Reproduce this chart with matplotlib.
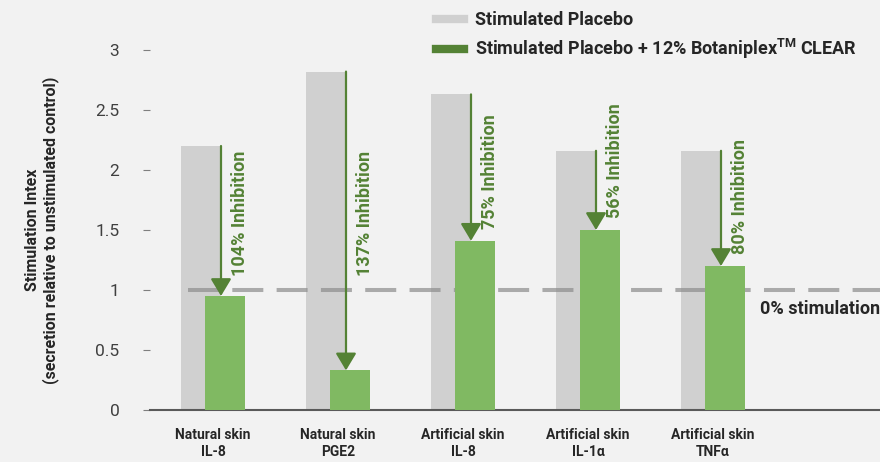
import matplotlib.pyplot as plt
from matplotlib.lines import Line2D
import numpy as np

plt.rcParams['font.family'] = ['Roboto', 'DejaVu Sans']
plt.rcParams['mathtext.fontset'] = 'custom'
plt.rcParams['mathtext.bf'] = 'Roboto:bold'
plt.rcParams['mathtext.rm'] = 'Roboto'

# Data ########################################################################
categories = ['Natural skin\nIL-8', 'Natural skin\nPGE2', 'Artificial skin\nIL-8',
              'Artificial skin\nIL-1α', 'Artificial skin\nTNFα']
placebo = [2.20, 2.82, 2.63, 2.16, 2.16]
botaniplex = [0.95, 0.33, 1.41, 1.50, 1.20]
inhibition = ['104%', '137%', '75%', '56%', '80%']
baseline = 1.0

bg = '#f2f2f2'
gray = '#d0d0d0'
green = '#80b962'
dark_green = '#548235'

fig = plt.figure(figsize=(8.8, 4.62), dpi=100, facecolor=bg)
ax = fig.add_axes([150 / 880, 52 / 462, 730 / 880, 360 / 462])
ax.set_facecolor(bg)

x = np.arange(len(categories))
w = 0.32
off = 0.096

# Bars, with the 0% line sitting between the two series
ax.bar(x - off, placebo, w, color=gray, zorder=1)
ax.plot([-0.2, 5.4], [baseline, baseline], color='#8c8c8c', alpha=0.7, lw=2.9,
        dashes=(7.7, 3.3), solid_capstyle='round', zorder=2)
ax.bar(x + off, botaniplex, w, color=green, zorder=3)

# Arrows + inhibition text
for i in range(len(categories)):
    ax_x = x[i] - off + w / 2
    ax.annotate('', xy=(ax_x, botaniplex[i]), xytext=(ax_x, placebo[i]),
                arrowprops=dict(arrowstyle='-|>,head_width=0.45,head_length=0.75',
                                color=dark_green, lw=1.6, shrinkA=0, shrinkB=0,
                                mutation_scale=14),
                zorder=4)
    ty = max(botaniplex[i] + 0.1, 1.12)
    ax.text(ax_x + 0.082, ty, inhibition[i] + ' Inhibition', rotation=90,
            ha='left', va='bottom', color=dark_green, fontsize=13,
            fontweight='bold', zorder=5)

ax.text(4.376, 0.917, '0% stimulation', ha='left', va='top', fontsize=13,
        fontweight='bold', color='#262626')

# Axes styling
ax.set_xlim(-0.504, 5.336)
ax.set_ylim(0, 3)
ax.set_yticks([0, 0.5, 1, 1.5, 2, 2.5, 3])
ax.set_yticklabels(['0', '0.5', '1', '1.5', '2', '2.5', '3'])
ax.set_xticks(x)
ax.set_xticklabels(categories, fontsize=10, fontweight='bold', color='#262626',
                   linespacing=1.25)
ax.tick_params(axis='x', length=0, pad=13)
ax.tick_params(axis='y', length=5, color='#7f7f7f', pad=17, labelsize=12.5,
               labelcolor='#404040')
for s in ['left', 'top', 'right']:
    ax.spines[s].set_visible(False)
ax.spines['bottom'].set_color('#595959')
ax.spines['bottom'].set_linewidth(1.5)

ax.set_ylabel('Stimulation Intex\n(secretion relative to unstimulated control)',
              fontsize=11.5, fontweight='bold', color='#262626', labelpad=26)

# Legend
handles = [Line2D([0], [0], color=gray, lw=6),
           Line2D([0], [0], color=dark_green, lw=6)]
labels = ['Stimulated Placebo',
          r'Stimulated Placebo + 12% Botaniplex$^{\mathbf{TM}}$ CLEAR']
fig.legend(handles, labels, loc='upper left', bbox_to_anchor=(420 / 880, 1 + 5 / 462),
           frameon=False, handlelength=1.55, handletextpad=0.6,
           labelspacing=0.42, prop={'weight': 'bold', 'size': 13},
           labelcolor='#262626')

plt.savefig('out.png', dpi=100, facecolor=bg)
